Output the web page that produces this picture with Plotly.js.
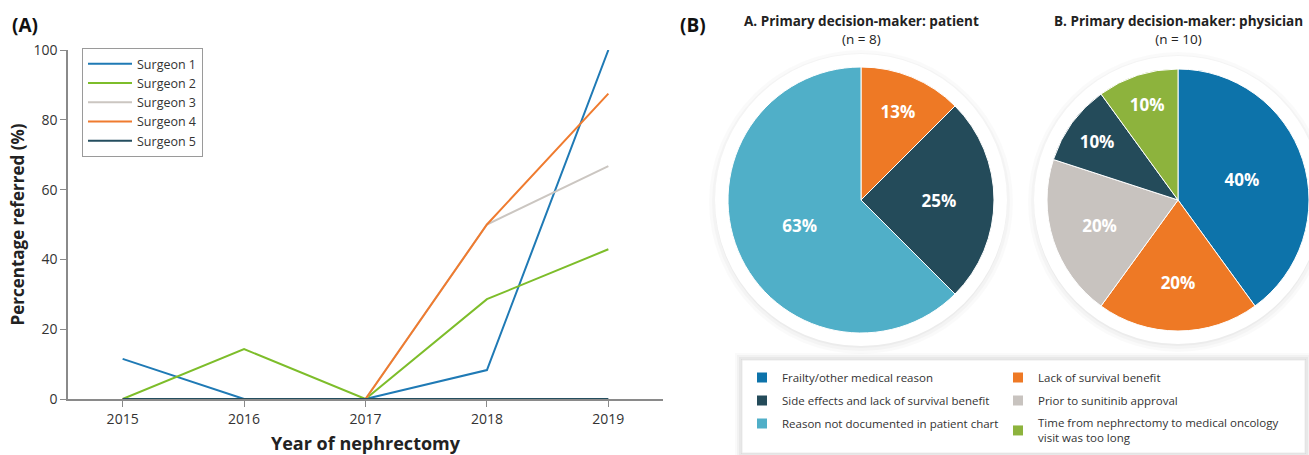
<!DOCTYPE html>
<html><head><meta charset="utf-8">
<script src="https://cdn.plot.ly/plotly-3.0.1.min.js"></script>
<style>html,body{margin:0;padding:0;overflow:hidden;background:#fff}#chart{width:1309px;height:455px}</style>
</head><body><div id="chart"></div>
<script>
// ---------- data ----------
const years = [2015, 2016, 2017, 2018, 2019];
const surgeonNames = ['Surgeon 1', 'Surgeon 2', 'Surgeon 3', 'Surgeon 4', 'Surgeon 5'];
const surgeon1 = [11.5, 0, 0, 8.3, 100];
const surgeon2 = [0, 14.3, 0, 28.6, 42.9];
const surgeon3 = [0, 0, 0, 50, 66.7];
const surgeon4 = [0, 0, 0, 50, 87.5];
const surgeon5 = [0, 0, 0, 0, 0];
const yTicks = [0, 20, 40, 60, 80, 100];

const patientLabels = ['Lack of survival benefit', 'Side effects and lack of survival benefit', 'Reason not documented in patient chart'];
const patientValues = [1, 2, 5];
const physicianLabels = ['Frailty/other medical reason', 'Lack of survival benefit', 'Prior to sunitinib approval', 'Side effects and lack of survival benefit', 'Time from nephrectomy to medical oncology<br>visit was too long'];
const physicianValues = [4, 2, 2, 1, 1];
// legend order, row by row (left column, right column)
const legendOrder = [
  'Frailty/other medical reason', 'Lack of survival benefit',
  'Side effects and lack of survival benefit', 'Prior to sunitinib approval',
  'Reason not documented in patient chart', 'Time from nephrectomy to medical oncology<br>visit was too long'
];

// ---------- styles ----------
const surgeonColors = ['#1f7ab5', '#7dbd2a', '#cbc6c1', '#ef7b2f', '#244e5f'];
const reasonColors = {
  'Frailty/other medical reason': '#0d73aa',
  'Lack of survival benefit': '#ee7925',
  'Side effects and lack of survival benefit': '#244b5a',
  'Prior to sunitinib approval': '#c8c3bf',
  'Reason not documented in patient chart': '#50afc8',
  'Time from nephrectomy to medical oncology<br>visit was too long': '#8db33d'
};
const FONT = 'Open Sans, Lato, sans-serif';
const W = 1309, H = 455;
const px = v => v / W;
const py = v => 1 - v / H;

const surgeonData = [surgeon1, surgeon2, surgeon3, surgeon4, surgeon5];
const traces = [];
surgeonData.forEach((vals, i) => {
  traces.push({
    type: 'scatter', mode: 'lines', x: years, y: vals, name: surgeonNames[i],
    line: {color: surgeonColors[i], width: 2}, legend: 'legend', hoverinfo: 'x+y+name'
  });
});

const pieCommon = {
  type: 'pie', sort: false, direction: 'clockwise', rotation: 0,
  textposition: 'inside', insidetextorientation: 'horizontal',
  texttemplate: '%{percent:.0%}',
  textfont: {color: '#ffffff', size: 17, family: FONT, weight: 'bold'},
  showlegend: false, hoverinfo: 'label+percent'
};
traces.push(Object.assign({}, pieCommon, {
  labels: patientLabels, values: patientValues,
  marker: {colors: patientLabels.map(l => reasonColors[l]), line: {color: '#ffffff', width: 1}},
  domain: {x: [px(728), px(994)], y: [py(333), py(67)]}
}));
traces.push(Object.assign({}, pieCommon, {
  labels: physicianLabels, values: physicianValues,
  marker: {colors: physicianLabels.map(l => reasonColors[l]), line: {color: '#ffffff', width: 1}},
  domain: {x: [px(1047), 1], y: [py(333), py(67)]}
}));

// legend entries for the pie reasons: two per row
legendOrder.forEach((lbl, i) => {
  traces.push({
    type: 'scatter', mode: 'markers', x: [null], y: [null], name: lbl,
    marker: {symbol: 'square', size: 10, color: reasonColors[lbl]},
    legend: 'legend2', legendgroup: 'g' + i, showlegend: true, hoverinfo: 'skip',
    legendwidth: (i % 2 === 0) ? 211 : 850
  });
});

// ring + soft shadow shapes behind pies
function ring(cx, cy, r) {
  const s = [];
  [[r + 19, 0.018], [r + 16, 0.025], [r + 13, 0.03], [r + 10, 0.035], [r + 7, 0.04]].forEach(([R, a]) => {
    s.push({type: 'circle', xref: 'paper', yref: 'paper', layer: 'below',
      x0: px(cx - R), x1: px(cx + R), y0: py(cy + 2 + R), y1: py(cy + 2 - R),
      fillcolor: 'rgba(0,0,0,' + a + ')', line: {width: 0}});
  });
  const R = r + 13;
  s.push({type: 'circle', xref: 'paper', yref: 'paper', layer: 'below',
    x0: px(cx - R), x1: px(cx + R), y0: py(cy + R), y1: py(cy - R),
    fillcolor: '#ffffff', line: {width: 0}});
  return s;
}
const shapes = [].concat(ring(861, 200, 133), ring(1178, 200, 131));
// legend box with soft shadow
[[7, 0.02], [5, 0.03], [3, 0.04], [1, 0.05]].forEach(([d, a]) => {
  shapes.push({type: 'rect', xref: 'paper', yref: 'paper', layer: 'below',
    x0: px(742 - d), x1: px(1305 + d), y0: py(453 + d), y1: py(360 - d),
    fillcolor: 'rgba(0,0,0,' + a + ')', line: {width: 0}});
});
shapes.push({type: 'rect', xref: 'paper', yref: 'paper', layer: 'below',
  x0: px(742), x1: px(1305), y0: py(453), y1: py(360),
  fillcolor: '#ffffff', line: {width: 1, color: '#ececec'}});

const layout = {
  width: W, height: H,
  margin: {l: 0, r: 0, t: 0, b: 0, autoexpand: false},
  paper_bgcolor: '#ffffff', plot_bgcolor: '#ffffff',
  font: {family: FONT, color: '#333333'},
  showlegend: true,
  xaxis: {
    domain: [px(68), px(663)], range: [2014.55, 2019.45], anchor: 'y',
    tickvals: years, ticktext: years.map(String),
    ticks: 'outside', ticklen: 6, tickcolor: '#8a8a8a', tickwidth: 1.2,
    showline: true, linecolor: '#8a8a8a', linewidth: 1.5,
    showgrid: false, zeroline: false, automargin: true,
    tickfont: {size: 14, color: '#333333', family: FONT},
    title: {text: 'Year of nephrectomy', font: {size: 18, weight: 'bold', color: '#222222', family: FONT}, standoff: 12}
  },
  yaxis: {
    domain: [py(399), py(50)], range: [0, 100], anchor: 'x',
    tickvals: yTicks, ticks: 'outside', ticklen: 6, tickcolor: '#8a8a8a', tickwidth: 1.2,
    showline: true, linecolor: '#8a8a8a', linewidth: 1.5,
    showgrid: false, zeroline: false,
    tickfont: {size: 14, color: '#333333', family: FONT},
    title: {text: 'Percentage referred (%)', font: {size: 17, weight: 'bold', color: '#222222', family: FONT}}
  },
  legend: {
    x: px(82), y: py(48), xanchor: 'left', yanchor: 'top',
    bordercolor: '#9a9a9a', borderwidth: 1, bgcolor: '#ffffff',
    font: {size: 12.5, color: '#333333', family: FONT}, itemwidth: 44
  },
  legend2: {
    x: px(742), y: py(363), xanchor: 'left', yanchor: 'top',
    orientation: 'h', traceorder: 'grouped', tracegroupgap: 4,
    borderwidth: 0, bgcolor: 'rgba(0,0,0,0)',
    font: {size: 11.5, color: '#333333', family: FONT}, itemwidth: 30
  },
  shapes: shapes,
  annotations: [
    {text: '<b>(A)</b>', xref: 'paper', yref: 'paper', x: px(10), y: py(25), xanchor: 'left', yanchor: 'middle', showarrow: false, font: {size: 19, color: '#111111', family: FONT}},
    {text: '<b>(B)</b>', xref: 'paper', yref: 'paper', x: px(678), y: py(25), xanchor: 'left', yanchor: 'middle', showarrow: false, font: {size: 19, color: '#111111', family: FONT}},
    {text: '<b>A. Primary decision-maker: patient</b><br>(n = 8)', xref: 'paper', yref: 'paper', x: px(861), y: py(10), xanchor: 'center', yanchor: 'top', showarrow: false, font: {size: 13.5, color: '#222222', family: FONT}},
    {text: '<b>B. Primary decision-maker: physician</b><br>(n = 10)', xref: 'paper', yref: 'paper', x: px(1178), y: py(10), xanchor: 'center', yanchor: 'top', showarrow: false, font: {size: 13.5, color: '#222222', family: FONT}}
  ]
};

Plotly.newPlot('chart', traces, layout, {displayModeBar: false, responsive: false});
</script>
</body></html>
